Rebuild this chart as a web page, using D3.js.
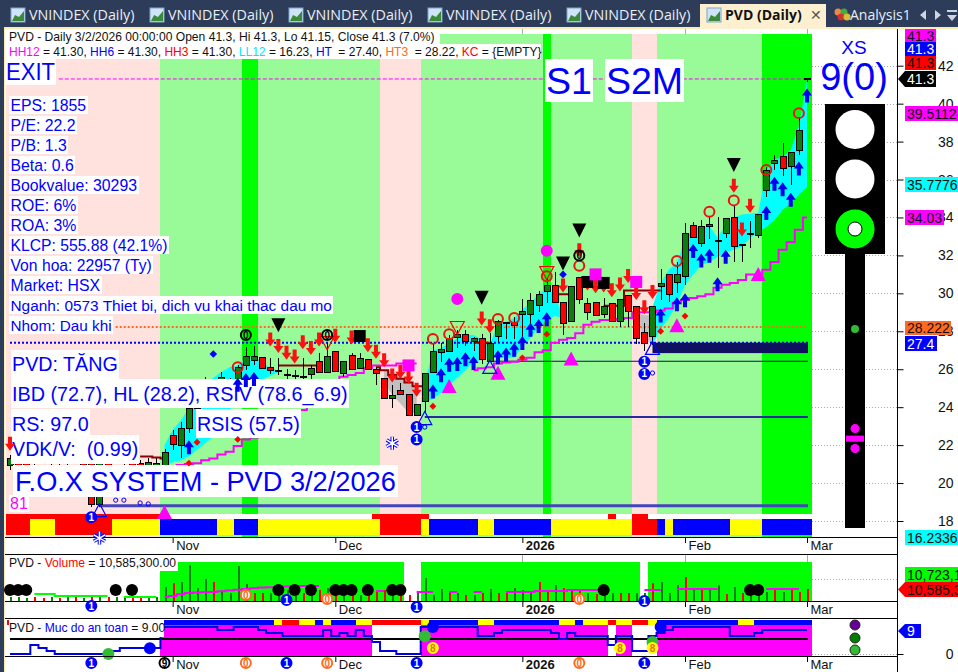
<!DOCTYPE html>
<html>
<head>
<meta charset="utf-8">
<script src="https://cdn.jsdelivr.net/npm/d3@7"></script>
<style>
body { margin: 0; background: #fff; overflow: hidden; }
text { font-family: "Liberation Sans", Arial, sans-serif; }
</style>
</head>
<body>
<script>
///////////
// DATA  //
///////////
const opens = [20.9,21.1,21.05,20.4,20.8,20.2,20.7,20.4,20.25,21.05,
  21.05,18.85,21.05,19.65,20.95,21.05,21.05,20.4,20.6,20.9,
  22.5,22,22.85,23.95,24.4,25.15,24.8,24.65,24.9,26.2,
  26.45,26.6,26.1,25.95,25.7,25.65,25.6,25.7,26.4,25.85,
  26.95,25.8,26.75,26.05,26.5,26,25.5,24.45,24.9,24.65,
  23.55,24.3,25.85,26.9,26.95,27.65,27.85,27.45,27.6,26.4,
  27.7,28.45,28.45,28.9,28.9,29.35,30.1,30.4,29.5,28.5,
  30.85,29.45,29.5,28.9,29.45,28.5,29.9,29.3,27.95,27.75,
  30.35,31,30.55,30.9,33.6,32.65,33.65,32.8,33.15,34,
  32.6,33.15,33.05,35.4,36.87,37.2,36.7,37.55,41.3]
const closes = [21.3,20.7,20.4,20.95,20.2,20.7,19.9,19.65,19.4,20.2,
  18.85,21.05,20.4,20.7,20.25,20.7,20.4,21.1,21.05,21.6,
  22.05,22.85,23.95,24.65,25,24.5,25.55,25.15,26.1,26.65,
  26.65,26.05,25.95,25.95,25.7,25.65,25.6,26.05,25.85,26.65,
  25.9,26.4,26,26.55,26,25.8,24.45,24.6,24.65,23.55,
  24.15,25.8,26.95,27.05,27.6,27.85,27.45,27.6,26.5,27.35,
  28.5,28.45,28.3,29.05,29.6,29.95,30.4,29.5,28.4,30.35,
  29.7,29,28.85,29.3,28.5,29.7,29.05,27.6,27.35,29.3,
  30.5,29.95,31,33.15,32.95,33.5,33.55,32.8,33.95,32.45,
  32.5,33.15,34.15,36.45,36.98,36.6,37.4,38.6,41.3]
const highs = [21.5,21.2,21.15,21.05,20.95,21.05,21.05,21.05,20.95,21.1,
  21.15,21.15,21.15,20.9,21.1,21.2,21.2,21.3,21.3,21.8,
  22.8,23.2,24.35,25,25.6,25.4,25.85,25.55,26.2,27.15,
  27.2,26.6,26.6,26.6,26,25.95,26.6,26.2,26.85,27.4,
  26.95,26.4,26.85,26.85,26.5,26.1,25.5,25.15,25.3,24.65,
  24.15,25.8,27.4,27.4,27.8,28.05,28.05,27.7,27.85,27.9,
  28.6,28.45,28.75,29.7,30,30.1,30.8,31.1,29.5,30.35,
  30.85,29.75,29.5,29.75,29.45,29.7,29.9,29.3,28.45,29.3,
  31.3,31,31.65,33.7,33.75,33.85,34.1,34,33.95,34.6,
  32.6,33.8,34.15,36.65,37.3,37.95,37.4,39.3,41.3]
const lows = [20.7,20.6,20.3,20.2,20,19.95,19.75,19.5,19.25,19.95,
  18.75,18.75,20.2,19.5,20.05,20.5,20.3,20.2,20.4,20.7,
  21.75,21.3,22.65,23.6,24.1,24.2,24.5,24.4,24.65,25.95,
  26.2,26.05,25.75,25.7,25.45,25.5,25.45,25.45,25.85,25.85,
  25.9,25.6,25.95,26,26,25.15,24.45,23.95,24.65,23.55,
  23.55,23.75,25.85,26.4,26.95,27.1,27.2,26.95,26.3,26.4,
  27.45,27.6,27.6,27.7,28.2,29,29.5,29.5,27.8,28.5,
  29.45,28.6,28.85,28.7,28.5,28.2,28.2,27.35,26.95,27.3,
  29.65,29.55,30,30.45,32.95,32.45,32.85,31.35,32.9,31.65,
  31.65,32.4,32.9,35.1,36.5,36.2,35.7,37.3,41.15]

const zoneEnds = [18,28,30,45,50,65,66,76,79,92,98]
const zoneKinds = ['pink','pale','bright','pale','pink','pale','bright','pale','pink','pale','bright']

const stripeEnds = [2,5,12,18,25,27,30,45,50,51,57,59,66,76,79,80,81,88,92,98]
const stripeKinds = ['r','y','r','y','b','y','b','y','r','y','b','y','b','y','r','b','y','b','y','b']
const stripeTopRed = [[0,18],[45,51],[74,74],[77,78]]

const movingAvg = [null,null,null,null,null,null,null,null,null,null,
  null,null,null,null,null,null,null,null,null,null,
  20.9,20.95,21,21.05,21.2,21.3,21.5,21.65,21.95,22.3,
  22.4,22.7,22.9,23.05,23.3,23.6,23.85,24.1,24.4,24.65,
  25,25.6,25.7,25.8,26.05,26.2,26.2,26.2,26.3,26.3,
  26.3,null,null,null,null,null,null,25.95,26.05,26.1,
  26.3,26.35,26.4,26.5,26.6,26.9,27,27.4,27.55,27.65,
  27.9,28.35,28.5,28.6,28.6,28.65,28.7,29,29,29,
  29.1,29.2,29.5,29.65,29.75,29.85,29.95,30.3,30.45,30.55,
  30.7,31,31,31.25,31.65,32.3,32.7,33.35,34]

const stopLine = [null,null,null,null,null,null,null,null,null,null,
  null,null,null,null,null,null,21.4,21.4,21.35,21.3,
  null,null,null,null,null,null,null,null,null,null,
  null,null,null,26.2,26.2,26.2,26.2,26.2,26.2,null,
  null,null,null,null,null,26.1,25.95,25.7,25.5,25.3,
  25.1,25.1,null,null,null,null,null,27.4,27.4,27.4,
  null,null,null,null,null,null,null,29.95,29.95,29.95,
  null,null,null,29.35,29.35,29.35,30.15,30.15,30.15,30.15,
  30.15,null,null,null,null,null,null,null,null,null,
  null,null,null,null,null,null,null,null,null]

const cyanStarts = [19,51,79]
const cyanUpper = [
  [22,22.8,23.3,23.95,24.65,25.15,25.55,25.85,26.1,26.2,26.65,26.65,26.4,26.05,25.95],
  [25.25,27,27.1,27.4,27.65,27.8,27.8,27.55,27.3,28.45,28.5,28.7,29.15,29.5,29.95,30.3,29.9,28.7],
  [29.3,30.55,31.25,31.6,32.8,33.5,33.45,33.55,32.95,33.6,34,34.15,34.2,34.25,36.5,37.05,37.2,37.55,38.85,41.25]]
const cyanLower = [
  [20.9,21.1,21.2,21.4,21.75,22.1,22.45,23.05,23.85,24.4,25.3,25.35,25.45,25.65,25.85],
  [24.25,24.45,24.75,25.15,25.55,25.95,26.4,26.5,26.6,26.6,26.6,26.6,27.2,27.65,28.2,28.6,28.8,28.7],
  [27.3,28.1,28.7,29.4,30.45,31,31.5,31.65,31.9,32.15,32.3,32.45,32.9,33.2,33.5,33.85,34.4,34.75,35.2,35.6]]
const greyStarts = [46,77]
const greyUpper = [[25.95,25.85,25.7,25.3,25.1],[28.95,28.85,28.85]]
const greyLower = [[25.3,24.65,24.2,23.7,23.7],[28.7,27.55,27.35]]

const upArrowBars = [22,28,29,30,52,53,54,55,56,57,60,61,62,63,64,65,66,80,82,83,84,85,86,87,88,93,94,95,96,97,98]
const upArrowPrices = [22.25,25.55,25.8,25.85,25.2,26.05,26.6,26.65,26.9,26.7,27,27.15,27.4,27.75,28.45,28.65,29,29.2,29.8,30,32.6,32.1,32.35,30.85,32.3,34.6,36.15,35.85,35.3,36.95,40.8]
const downArrowBars = [0,32,33,34,35,36,37,38,40,42,44,45,46,47,48,49,50,58,59,68,70,71,72,73,74,75,76,77,78,79,89,90,91]
const downArrowPrices = [21.7,27.2,26.85,26.5,26.3,27.05,26.75,27.2,27.4,27.3,26.9,26.55,26.1,25.3,25.5,25.25,24.55,28.3,27.9,30.05,31.9,30.15,30,30.05,29.8,30.1,30.55,29.65,28.9,29.7,35.3,33,34.25]
const ringBars = [28,52,54,60,62,66,70,82,86,89,93,97]
const ringPrices = [26.1,27.6,27.85,28.65,28.7,30.9,31.45,31.7,34.3,34.9,36.5,39.5]
const sellBars = [33,58,68,70,89]
const sellPrices = [27.95,29.4,31.2,32.95,36.4]
const pinkTriBars = [19,54,60,69,82,92]
const pinkTriPrices = [18.1,24.75,25.45,26.2,27.95,30.65]
const blackSquareBars = [43,71,73]
const blackSquarePrices = [27.75,30.6,30.55]
const pinkSquareBars = [49,72,77]
const pinkSquarePrices = [26.2,31,30.6]
const pinkDotBars = [55,66]
const pinkDotPrices = [29.7,32.25]
const blueDiamondBars = [25,68]
const blueDiamondPrices = [26.8,31]
const redDiamondBars = [22,23,28,52,63,66,80,83]
const redDiamondPrices = [21.05,22.15,22.3,24.05,26.6,27.85,28,28.8]
const blueOutlineBars = [11,51,59,79]
const blueOutlinePrices = [18.55,23.4,26.1,27.1]
const redOutlineBars = [39,55,66]
const redOutlinePrices = [27.4,28.2,31.1]
const zeroBadgeBars = [29,39,70]
const zeroBadgePrices = [27.8,27.8,32]
const oneBadgeBars = [10,50,50,78,78]
const oneBadgePrices = [18.2,22.95,22.3,26.4,25.75]
const snowBars = [11,47]
const snowPrices = [17.1,22.1]
const smallRingBars = [13,14,16,17,51,79]
const smallRingPrices = [19.1,19.1,18.95,18.9,22.95,25.8]

const priceTicks = [42,40,38,36,34,32,30,28,26,24,22,20,18]
const monthBars = [20,40,63,83,98]
const monthNames = ['Nov','Dec','2026','Feb','Mar']

const volumes = [3.5,3.5,2.6,3.5,2.6,3.5,2.6,3.5,3.5,2.6,
  3.5,3.5,3.5,3.5,2.6,3.5,3.5,2.6,3.5,12.4,
  15.9,16.8,31.8,11.5,19.4,16.8,9.7,7.1,30.9,15,
  7.1,7.1,7.1,12.4,9.7,5.3,7.1,12.4,9.7,11.5,
  5.3,9.7,7.1,5.3,6.2,9.7,9.7,7.1,5.3,5.3,
  8,20.3,5.3,10.6,7.1,7.1,5.3,5.3,7.1,10.6,
  7.1,7.1,11.5,9.7,8,16.8,8,14.1,11.5,10.6,
  10.6,7.1,6.2,7.1,7.1,7.1,7.1,7.1,7.1,15.9,
  16.8,7.1,14.1,21.2,11.5,9.7,11.5,14.1,6.2,12.4,
  7.1,7.1,9.7,8,9.7,8,9.7,8,10.585]
const volumeKinds = 'gggrrgrgrgrgrggrrgggrggggrggggrrggggrgrgrgrgrrrgrrggggrgrgrgrrgggrrgrrrgrggrrggrgggrgrggrgrgggrgr'.split('')
const volumeAvg = [null,null,null,6.2,6.2,6.2,4.4,4.4,4.4,4.4,
  4.4,4.4,4.4,null,3.5,3.5,3.5,3.5,3.5,3.5,
  4.4,6,7.1,7.5,7.7,7.9,8.6,9.2,9.9,10.6,
  11.2,11.8,12.2,12.4,12.8,13,13.2,13.2,13.2,null,
  null,null,null,null,null,8.8,8.8,null,null,null,
  7.9,7.9,7.9,null,7.9,7.9,null,7.9,7.9,null,
  null,7.9,7.9,7.9,7.9,8.8,8.8,8.8,8.8,9.7,
  9.7,9.7,9.7,9.7,null,null,null,null,9.7,9.7,
  9.7,null,10.6,10.6,10.6,10.6,10.6,10.6,null,null,
  null,null,null,10.6,10.6,10.6,10.6,10.6,null]
const volumeDotBars = [0,1,2,13,15,33,35,37,40,41,42,44,47,48,73,91,92]
const volumeBlocks = [[19,48],[51,77],[79,98]]

const safety = [0,0,0,3,2,1,0,0,0,0,0,0,0,1,2,2,2,2,2,
  9,9,9,9,9,9,9,8,8,9,9,9,8,7,7,6,6,6,6,6,8,6,7,6,8,6,4,1,1,0,0,0,
  9,9,9,9,9,9,9,6,6,7,8,8,8,8,8,8,7,5,7,6,6,6,6,3,6,6,1,1,6,7,8,
  9,9,9,9,9,9,9,6,6,6,7,8,8,8,8,8,8]
const safetyBlocks = [[19,44],[51,73],[75,76],[80,98]]
const safetyRowEnds = [18,32,33,35,37,38,39,42,44,50,51,57,59,67,69,70,73,74,76,78,79,89,91,98]
const safetyRowKinds = ['w','b','y','r','y','b','y','b','y','r','y','b','y','b','y','b','y','r','y','r','y','b','y','b']
const safeLevel = 5

const volumeValue = 10.5853

////////////
// SETUP  //
////////////
const width = 958
const height = 672
const black = '#000'
const blue = '#0000ff'
const magenta = '#ff00ff'
const colors = {pink: '#ffe1dd', pale: '#98fb98', bright: '#00ff00',
  r: '#ff0000', y: '#ffff00', b: '#0000ff', w: '#ffffff'}

const chartRight = 812
const axisX = 897.5

const x = d3.scaleLinear().domain([0, 98]).range([10, 807])
const step = x(1) - x(0)
const yPrice = d3.scaleLinear().domain([42, 18]).range([65.7, 521])
const yVolume = d3.scaleLinear().domain([0, volumeValue]).range([601, 589])
const ySafety = d3.scaleLinear().domain([0, 9]).range([654, 627])

const barLeft = i => i < 0 ? 6 : x(i) - step / 2
const barRight = i => i >= 98 ? chartRight : x(i) + step / 2

const svg = d3.select('body').append('svg')
  .attr('width', width)
  .attr('height', height)
  .style('display', 'block')

function rect(g, x0, y0, x1, y1, fill) {
  return g.append('rect').attr('x', x0).attr('y', y0)
    .attr('width', x1 - x0).attr('height', y1 - y0).attr('fill', fill)
}

//////////////
// WINDOW   //
//////////////
const chrome = svg.append('g').attr('shape-rendering', 'crispEdges')
rect(chrome, 0, 0, width, 27, '#2d3c58')
rect(chrome, 0, 0, 4, height, '#2d3c58')
rect(chrome, 4, 27, width, 29, '#fce9b4')
rect(chrome, 4, 27, 5, height, '#fce9b4')
rect(chrome, 700, 4, 826, 29, '#fdf0d0')

const tabs = [11, 150, 289, 428, 567]
const tabIcon = (g, ix) => {
  rect(g, ix, 8, ix + 14, 22, '#cfe4f6').attr('stroke', '#7ea4c8')
  g.append('path').attr('d', `M${ix + 1} 21 L${ix + 4} 15 L${ix + 8} 17 L${ix + 13} 11 V21Z`).attr('fill', '#3a8a3a')
}
tabs.forEach(t => {
  tabIcon(svg, t)
  svg.append('text').attr('x', t + 18).attr('y', 20).attr('fill', '#e8eef6')
    .style('font-family', '"Open Sans"').style('font-size', '14.3px').text('VNINDEX (Daily)')
})
tabIcon(svg, 707)
svg.append('text').attr('x', 725).attr('y', 20).attr('fill', '#111')
  .style('font-family', '"Open Sans"').style('font-size', '14px').style('font-weight', 700).text('PVD (Daily)')
svg.append('text').attr('x', 810).attr('y', 20).attr('fill', '#555').style('font-size', '14px').text('✕')
const analysisIcon = ['#e84', '#4a4', '#c33', '#db3']
analysisIcon.forEach((c, i) => svg.append('circle').attr('cx', 838 + (i % 2) * 6 + (i > 1 ? 3 : 0)).attr('cy', 12 + (i > 1 ? 5 : 0)).attr('r', 3.5).attr('fill', c))
svg.append('text').attr('x', 850).attr('y', 20).attr('fill', '#e8eef6')
  .style('font-family', '"Open Sans"').style('font-size', '14px').text('Analysis1')
svg.append('path').attr('d', 'M926 10 L920 15 L926 20Z M935 10 L941 15 L935 20Z M947 15 H957 L952 21Z M947 10 H957 V12 H947Z').attr('fill', '#cfd6e2')

//////////////////
// MAIN PANE    //
//////////////////
const mainBg = svg.append('g').attr('shape-rendering', 'crispEdges')
const mainTop = 34
const mainBottom = 537
zoneEnds.forEach((end, k) => {
  rect(mainBg, barLeft(k ? zoneEnds[k - 1] + 1 : -1), mainTop, barRight(end), mainBottom, colors[zoneKinds[k]])
})
// header white boxes
rect(mainBg, 5, 29, axisX, 34, '#fff')
rect(mainBg, 5, 34, 440, 44, '#fff')
rect(mainBg, 5, 44, 541, 59, '#fff')
rect(mainBg, 6, 59, 56, 85, '#fff')

// stripe at the bottom of the pane
rect(mainBg, 6, 514, chartRight, 519, '#fff')
stripeTopRed.forEach(([a, b]) => rect(mainBg, barLeft(a === 0 ? -1 : a), 514, barRight(b), 519, colors.r))
stripeEnds.forEach((end, k) => {
  rect(mainBg, barLeft(k ? stripeEnds[k - 1] + 1 : -1), 519, barRight(end), 535, colors[stripeKinds[k]])
})

// grid stubs to the right of the chart
const grid = svg.append('g')
grid.selectAll('line').data(priceTicks).join('line')
  .attr('x1', chartRight).attr('x2', axisX)
  .attr('y1', d => Math.round(yPrice(d)) + .5).attr('y2', d => Math.round(yPrice(d)) + .5)
  .attr('stroke', '#aaa').attr('stroke-dasharray', '1,2')
grid.append('line').attr('x1', chartRight).attr('x2', axisX).attr('y1', 579.5).attr('y2', 579.5).attr('stroke', '#aaa').attr('stroke-dasharray', '1,2')
grid.append('line').attr('x1', chartRight).attr('x2', axisX).attr('y1', ySafety(0) + .5).attr('y2', ySafety(0) + .5).attr('stroke', '#aaa').attr('stroke-dasharray', '1,2')
monthBars.slice(2).forEach(b => {
  grid.append('line').attr('x1', Math.round(x(b)) + .5).attr('x2', Math.round(x(b)) + .5).attr('y1', 29).attr('y2', 34).attr('stroke', '#aaa')
  grid.append('line').attr('x1', Math.round(x(b)) + .5).attr('x2', Math.round(x(b)) + .5).attr('y1', 555).attr('y2', 562).attr('stroke', '#aaa')
})

// cyan and grey ribbons
const ribbon = (upper, lower, start) => d3.area()
  .x((d, i) => x(start + i))
  .y0((d, i) => yPrice(lower[i]))
  .y1((d, i) => yPrice(upper[i]))(upper)
cyanUpper.forEach((u, k) => svg.append('path').attr('d', ribbon(u, cyanLower[k], cyanStarts[k])).attr('fill', '#00ffff'))
greyUpper.forEach((u, k) => svg.append('path').attr('d', ribbon(u, greyLower[k], greyStarts[k])).attr('fill', '#c0c0c0'))

// level lines
const level = (price, from, color, w, dash) => svg.append('line')
  .attr('x1', from === 0 ? 10 : x(from)).attr('x2', chartRight - 4)
  .attr('y1', yPrice(price)).attr('y2', yPrice(price))
  .attr('stroke', color).attr('stroke-width', w).attr('stroke-dasharray', dash || null)
level(41.3, 6, magenta, 1, '4,2')
level(28.222, 13, '#ff6a20', 2, '2,2')
level(27.4, 0, blue, 2, '2,2')
level(26.42, 59, '#101060', 1)
level(23.48, 51, '#2a2a9c', 2)
level(18.8, 11, '#4444bb', 3)
rect(svg, x(79), yPrice(27.4), chartRight - 4, yPrice(26.85), '#101060')

// stepped lines
const stepLine = (values, color, w, scale) => svg.append('path')
  .attr('d', d3.line().defined(d => d !== null).x((d, i) => x(i)).y(d => scale(d)).curve(d3.curveStep)(values))
  .attr('fill', 'none').attr('stroke', color).attr('stroke-width', w)
stepLine(movingAvg, magenta, 2, yPrice)
stepLine(stopLine, '#8b0000', 2, yPrice)

// candles
const candles = svg.append('g').attr('shape-rendering', 'crispEdges')
closes.forEach((c, i) => {
  const px = Math.round(x(i)) + .5
  candles.append('line').attr('x1', px).attr('x2', px)
    .attr('y1', yPrice(highs[i])).attr('y2', yPrice(lows[i])).attr('stroke', black)
  const top = Math.max(opens[i], c)
  const bot = Math.min(opens[i], c)
  const fill = c > opens[i] ? '#0d7d0d' : c < opens[i] ? '#ff0000' : black
  candles.append('rect').attr('x', px - 3).attr('width', 6)
    .attr('y', yPrice(top)).attr('height', Math.max(1, yPrice(bot) - yPrice(top)))
    .attr('fill', fill).attr('stroke', black)
})

// markers
const marks = svg.append('g')
const at = (bars, prices) => bars.map((b, i) => [x(b), yPrice(prices[i])])
const place = (pts, shape, fill, stroke, w) => marks.selectAll(null).data(pts).join('path')
  .attr('d', shape).attr('transform', d => `translate(${d[0]},${d[1]})`)
  .attr('fill', fill).attr('stroke', stroke || 'none').attr('stroke-width', w || 1)

place(at(upArrowBars, upArrowPrices), 'M0 0 L5 7 L2 7 L2 14 L-2 14 L-2 7 L-5 7Z', '#0000ee')
place(at(downArrowBars, downArrowPrices), 'M0 0 L5 -7 L2 -7 L2 -14 L-2 -14 L-2 -7 L-5 -7Z', '#ff1010')
place(at(sellBars, sellPrices), 'M0 0 L-7 -14 L7 -14Z', black)
place(at(pinkTriBars, pinkTriPrices), 'M-7.5 0 L0 -14 L7.5 0Z', magenta)
place(at(blackSquareBars, blackSquarePrices), 'M-6 -6 H6 V6 H-6Z', black)
place(at(pinkSquareBars, pinkSquarePrices), 'M-6 -6 H6 V6 H-6Z', magenta)
place(at(pinkDotBars, pinkDotPrices), d3.symbol(d3.symbolCircle, 113)(), magenta)
place(at(blueDiamondBars, blueDiamondPrices), d3.symbol(d3.symbolDiamond2, 36)(), blue)
place(at(redDiamondBars, redDiamondPrices), d3.symbol(d3.symbolDiamond2, 30)(), '#ff0000')
place(at(blueOutlineBars, blueOutlinePrices), 'M0 -7 L7 6 L-7 6Z', 'none', blue, 1.2)
place(at(redOutlineBars, redOutlinePrices), 'M-7 -6 H7 L0 7Z', 'none', '#ff0000', 1.2)
place(at(ringBars, ringPrices), d3.symbol(d3.symbolCircle, 78)(), 'none', '#f01010', 2)
place(at(smallRingBars, smallRingPrices), d3.symbol(d3.symbolCircle, 14)(), 'none', blue, 1)
place(at(snowBars, snowPrices), d3.symbol(d3.symbolAsterisk, 120)(), 'none', blue, 3.5)
place(at(snowBars, snowPrices), d3.symbol(d3.symbolAsterisk, 120)(), 'none', '#fff', 1.5)

function badge(cx, cy, fill, stroke, digit, color) {
  marks.append('circle').attr('cx', cx).attr('cy', cy).attr('r', 5)
    .attr('fill', fill).attr('stroke', stroke).attr('stroke-width', 2)
  marks.append('text').attr('x', cx).attr('y', cy + 3.5).attr('text-anchor', 'middle')
    .attr('fill', color).style('font-size', '10px').style('font-weight', 700).text(digit)
}
at(zeroBadgeBars, zeroBadgePrices).forEach(p => badge(p[0], p[1], 'none', black, '0', black))
at(oneBadgeBars, oneBadgePrices).forEach(p => badge(p[0], p[1], blue, blue, '1', '#fff'))

///////////////////////
// TEXT OVER THE PANE //
///////////////////////
const overlay = svg.append('g')
function boxed(str, px, cy, size, fill, padX, padY, boxH) {
  const g = overlay.append('g')
  const t = g.append('text').attr('x', px).attr('y', cy + size * .36)
    .attr('fill', fill).style('font-size', size + 'px').attr('xml:space', 'preserve').text(str)
  const b = t.node().getBBox()
  const h = boxH || b.height + padY * 2
  g.insert('rect', 'text').attr('x', b.x - padX).attr('y', cy - h / 2)
    .attr('width', b.width + padX * 2).attr('height', h).attr('fill', '#fff')
    .attr('shape-rendering', 'crispEdges')
}
const statLines = ['EPS: 1855', 'P/E: 22.2', 'P/B: 1.3', 'Beta: 0.6', 'Bookvalue: 30293',
  'ROE: 6%', 'ROA: 3%', 'KLCP: 555.88 (42.1%)', 'Von hoa: 22957 (Ty)', 'Market: HSX',
  'Nganh: 0573 Thiet bi, dich vu khai thac dau mo', 'Nhom: Dau khi']
const statSizes = [15.8, 15.8, 15.8, 15.8, 15.8, 15.8, 15.8, 15.7, 15.7, 15.8, 15.4, 15.3]
statLines.forEach((s, i) => boxed(s, 10.5, 105 + i * 20, statSizes[i], blue, 1.5, 0, 18))
boxed('PVD: TĂNG', 12, 364, 19.7, blue, 1, 0, 29)
boxed('IBD (72.7), HL (28.2), RSIV (78.6_6.9)', 12, 393.5, 19.8, blue, 1, 0, 29)
boxed('RS: 97.0', 12, 423.5, 19.7, blue, 1, 0, 29)
boxed('RSIS (57.5)', 197, 423.5, 19.7, blue, 1, 0, 29)
boxed('VDK/V:  (0.99)', 12, 449, 19.7, blue, 1, 0, 29)
boxed('F.O.X SYSTEM - PVD 3/2/2026', 15, 481, 27.2, blue, 2, 0, 32)
boxed('81', 10, 503, 16, magenta, 1, 0, 17)
boxed('S1', 546, 80.5, 37.5, blue, 1, 0, 43)
boxed('S2M', 606, 80.5, 37.5, blue, 1, 0, 43)

overlay.append('text').attr('x', 6).attr('y', 80).attr('fill', blue).style('font-size', '24px')
  .attr('textLength', 49).attr('lengthAdjust', 'spacingAndGlyphs').text('EXIT')

const head1 = overlay.append('text').attr('x', 9).attr('y', 41).attr('fill', '#111').style('font-size', '12.1px')
head1.text('PVD - Daily 3/2/2026 00:00:00 Open 41.3, Hi 41.3, Lo 41.15, Close 41.3 (7.0%)')
const headParts = [['HH12', magenta], [' = 41.30, ', '#111'], ['HH6', blue], [' = 41.30, ', '#111'],
  ['HH3', '#ff0000'], [' = 41.30, ', '#111'], ['LL12', '#00e5ff'], [' = 16.23, ', '#111'],
  ['HT', blue], ['  = 27.40, ', '#111'], ['HT3', '#ff6a20'], ['  = 28.22, ', '#111'],
  ['KC', '#ff0000'], [' = {EMPTY}', '#111']]
const head2 = overlay.append('text').attr('x', 9).attr('y', 55.5).style('font-size', '12px').attr('xml:space', 'preserve')
headParts.forEach(p => head2.append('tspan').attr('fill', p[1]).text(p[0]))

//////////////////
// TRAFFIC LIGHT //
//////////////////
const light = svg.append('g')
rect(light, 825, 104, 885, 254, black)
rect(light, 845, 254, 865, 528, black)
const lampY = [129.5, 179, 229]
lampY.forEach((ly, i) => light.append('circle').attr('cx', 855).attr('cy', ly).attr('r', 19.5).attr('fill', i === 2 ? '#00ff00' : '#fff'))
light.append('circle').attr('cx', 855).attr('cy', 229).attr('r', 7).attr('fill', '#fff').attr('stroke', black)
light.append('circle').attr('cx', 855).attr('cy', yPrice(28.12)).attr('r', 4).attr('fill', '#33bb33')
light.append('circle').attr('cx', 855).attr('cy', yPrice(22.87)).attr('r', 4.5).attr('fill', magenta)
light.append('circle').attr('cx', 855).attr('cy', yPrice(21.82)).attr('r', 4.5).attr('fill', magenta)
rect(light, 846, yPrice(22.5), 864, yPrice(22.18), magenta)
light.append('text').attr('x', 854).attr('y', 54).attr('text-anchor', 'middle').attr('fill', blue).style('font-size', '19px').text('XS')
light.append('text').attr('x', 854).attr('y', 90).attr('text-anchor', 'middle').attr('fill', blue).style('font-size', '38px').text('9(0)')

//////////////////
// VOLUME PANE  //
//////////////////
const volGroup = svg.append('g').attr('shape-rendering', 'crispEdges')
volumeBlocks.forEach(([a, b]) => rect(volGroup, barLeft(a), 562, barRight(b), 601, '#00ff00'))
volumes.forEach((v, i) => {
  rect(volGroup, Math.round(x(i)), yVolume(v), Math.round(x(i)) + 2, 601, volumeKinds[i] === 'g' ? '#0d7d0d' : '#ff0000')
})
const volPath = (vals, c) => svg.append('path')
  .attr('d', d3.line().defined(d => d !== null).x((d, i) => x(i)).y(d => yVolume(d)).curve(d3.curveStep)(vals))
  .attr('fill', 'none').attr('stroke', c).attr('stroke-width', 2)
volPath(volumeAvg.map((d, i) => i < 19 ? d : null), '#00ff00')
volPath(volumeAvg.map((d, i) => i >= 19 ? d : null), magenta)
svg.selectAll(null).data(volumeDotBars).join('circle')
  .attr('cx', d => x(d)).attr('cy', 590).attr('r', 6).attr('fill', black)
rect(svg, 5, 554, 178, 571, '#fff')
const volLabel = svg.append('text').attr('x', 9).attr('y', 567).style('font-size', '12.1px').attr('xml:space', 'preserve')
;[['PVD - ', '#111'], ['Volume', '#ff0000'], [' = 10,585,300.00', '#111']].forEach(p => volLabel.append('tspan').attr('fill', p[1]).text(p[0]))

//////////////////
// SAFETY PANE  //
//////////////////
const safeGroup = svg.append('g').attr('shape-rendering', 'crispEdges')
safetyBlocks.forEach(([a, b]) => rect(safeGroup, barLeft(a), 620, barRight(b), 656, magenta))
safetyRowEnds.forEach((end, k) => {
  rect(safeGroup, barLeft(k ? safetyRowEnds[k - 1] + 1 : -1), 620, barRight(end), 625, colors[safetyRowKinds[k]])
})
rect(safeGroup, 7, 620, 9, 625, colors.r)
svg.append('line').attr('x1', x(0)).attr('x2', chartRight - 4)
  .attr('y1', ySafety(safeLevel)).attr('y2', ySafety(safeLevel)).attr('stroke', black).attr('stroke-width', 2)
svg.append('path')
  .attr('d', d3.line().x((d, i) => x(i)).y(d => ySafety(d)).curve(d3.curveStep)(safety))
  .attr('fill', 'none').attr('stroke', '#0000e0').attr('stroke-width', 2)
const safeDots = [[17.2, 1.9, blue], [12.1, 0, '#33bb33'], [52, 9, blue], [51, 5.9, '#33bb33'], [80, 9, blue], [79, 4, '#33bb33']]
safeDots.forEach(d => svg.append('circle').attr('cx', x(d[0])).attr('cy', ySafety(d[1])).attr('r', 6).attr('fill', d[2]))
;[52, 75, 79].forEach(b => {
  svg.append('circle').attr('cx', x(b)).attr('cy', ySafety(2)).attr('r', 5).attr('fill', '#ffff00').attr('stroke', '#ffff00').attr('stroke-width', 2)
  svg.append('text').attr('x', x(b)).attr('y', ySafety(2) + 3.5).attr('text-anchor', 'middle').attr('fill', '#e8701f').style('font-size', '10px').style('font-weight', 700).text('8')
})
rect(svg, 5, 620, 164, 637, '#fff')
rect(svg, 7, 620, 9, 625, colors.r)
const safeLabel = svg.append('text').attr('x', 9).attr('y', 632).style('font-size', '12.1px').attr('xml:space', 'preserve')
;[['PVD - ', '#111'], ['Muc do an toan', blue], [' = 9.00', '#111']].forEach(p => safeLabel.append('tspan').attr('fill', p[1]).text(p[0]))
const rightDots = [[625, '#660099'], [638, '#007f00'], [650, '#33bb33']]
rightDots.forEach(d => svg.append('circle').attr('cx', 855).attr('cy', d[0]).attr('r', 5).attr('fill', d[1]).attr('stroke', '#222'))

//////////////////
// AXES         //
//////////////////
const seps = svg.append('g').attr('shape-rendering', 'crispEdges')
;[537, 554, 601, 618, 656].forEach(y => seps.append('line').attr('x1', 5).attr('x2', axisX).attr('y1', y + .5).attr('y2', y + .5).attr('stroke', black))
seps.append('line').attr('x1', axisX).attr('x2', axisX).attr('y1', 29).attr('y2', height).attr('stroke', black)

function dateAxis(y0) {
  const g = svg.append('g').attr('transform', `translate(0,${y0})`)
    .call(d3.axisBottom(x).tickValues(monthBars).tickSize(5).tickFormat((d, i) => monthNames[i]))
  g.select('.domain').remove()
  g.selectAll('text').attr('text-anchor', 'start').attr('x', 3).attr('y', 3)
    .attr('fill', '#111').style('font-size', '13px')
    .style('font-weight', d => d === 63 ? 700 : 400)
}
dateAxis(538)
dateAxis(602)
dateAxis(657)

const axisG = svg.append('g').attr('transform', `translate(${axisX},0)`)
  .call(d3.axisRight(yPrice).tickValues(priceTicks).tickSize(6).tickFormat(d3.format('d')))
axisG.select('.domain').remove()
axisG.selectAll('text').attr('text-anchor', 'end').attr('x', 56).attr('fill', '#111').style('font-size', '14px')
const axisSafe = svg.append('g').attr('transform', `translate(${axisX},0)`)
  .call(d3.axisRight(ySafety).tickValues([0]).tickSize(6))
axisSafe.select('.domain').remove()
axisSafe.selectAll('text').attr('text-anchor', 'end').attr('x', 56).attr('fill', '#111').style('font-size', '14px')

// badges in the date rows
const rowBadges = [[10, 606, blue, '1'], [34, 600, blue, '1'], [50, 607, blue, '1'], [78, 601, blue, '1'],
  [29, 595, 'o', '0'], [39, 599, 'o', '0'], [70, 599, 'o', '0'],
  [10, 663, blue, '1'], [34, 663, blue, '1'], [50, 663, blue, '1'], [78, 663, blue, '1'],
  [29, 663, 'o', '0'], [39, 663, 'o', '0'], [70, 663, 'o', '0']]
rowBadges.forEach(b => {
  if (b[2] === 'o') badge(x(b[0]), b[1], '#fff', '#ff6a20', b[3], '#ff6a20')
  else badge(x(b[0]), b[1], b[2], b[2], b[3], '#fff')
})
svg.node().appendChild(marks.node())
badge(x(19), 663, '#fff', black, '9', black)

// value tags
function tag(x0, x1, y0, y1, fill, str, color, arrow) {
  rect(svg, x0, y0, x1, y1, fill).attr('shape-rendering', 'crispEdges')
  if (arrow) svg.append('path').attr('d', `M${x0 - 7} ${(y0 + y1) / 2} L${x0} ${y0} V${y1}Z`).attr('fill', fill)
  svg.append('text').attr('x', x0 + 2).attr('y', (y0 + y1) / 2 + 5).attr('fill', color).style('font-size', '14px').text(str)
}
tag(905, 936, 29, 42, magenta, '41.3', '#111')
tag(905, 936, 42, 56, blue, '41.3', '#fff')
tag(905, 936, 56, 70, '#ff0000', '41.3', '#111')
tag(905, 936, 71, 87, black, '41.3', '#fff', true)
tag(905, 958, 106, 121, magenta, '39.5112', '#111')
tag(905, 958, 177, 192, '#00ffff', '35.7776', '#111')
tag(905, 944, 210, 225, magenta, '34.03', '#111')
tag(905, 951, 321, 335, '#ff6a20', '28.222', '#111')
tag(905, 937, 336, 351, blue, '27.4', '#fff')
tag(905, 958, 530, 545, '#00ffff', '16.2336', '#111')
tag(905, 958, 567, 582, '#00ff00', '10,723,146', '#111')
tag(905, 958, 582, 597, '#ff0000', '10,585,300', '#111', true)
tag(905, 921, 624, 638, blue, '9', '#fff', true)
</script>
</body>
</html>
